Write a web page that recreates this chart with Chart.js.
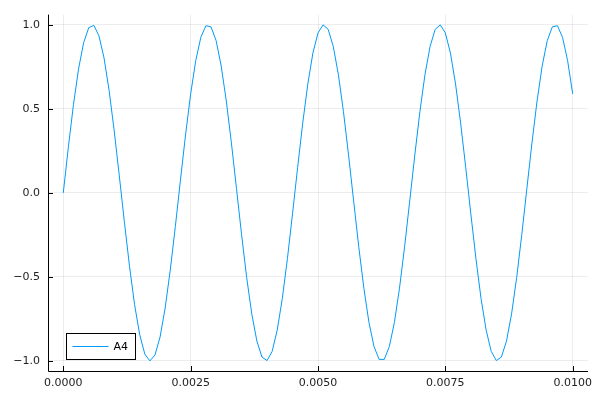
<!DOCTYPE html>
<html><head><meta charset="utf-8">
<script src="https://cdn.jsdelivr.net/npm/chart.js@4"></script>
<style>html,body{margin:0;padding:0;background:#fff}#wrap{width:600px;height:400px}</style>
</head><body><div id="wrap"><canvas id="c" width="600" height="400"></canvas></div>
<script>
const seriesName = "A4";
const timeStep = 0.0001;
const amplitude = [0,0.273,0.525,0.737,0.894,0.982,0.996,0.934,0.802,0.608,0.368,0.100,-0.175,-0.437,-0.666,-0.844,-0.959,-1.000,-0.965,-0.858,-0.685,-0.460,-0.200,0.075,0.345,0.588,0.786,0.925,0.994,0.987,0.905,0.754,0.546,0.297,0.025,-0.249,-0.504,-0.720,-0.882,-0.977,-0.998,-0.943,-0.816,-0.628,-0.391,-0.125,0.150,0.414,0.647,0.831,0.951,0.999,0.972,0.870,0.703,0.482,0.224,-0.050,-0.321,-0.567,-0.771,-0.915,-0.991,-0.991,-0.915,-0.771,-0.567,-0.321,-0.050,0.224,0.482,0.703,0.870,0.972,0.999,0.951,0.831,0.647,0.414,0.150,-0.125,-0.391,-0.628,-0.816,-0.943,-0.998,-0.977,-0.882,-0.720,-0.504,-0.249,0.025,0.297,0.546,0.754,0.905,0.987,0.994,0.925,0.786,0.588];
const xTicks = [0, 0.0025, 0.005, 0.0075, 0.01];
const xTickLabels = ["0.0000","0.0025","0.0050","0.0075","0.0100"];
const yTicks = [-1, -0.5, 0, 0.5, 1];
const yTickLabels = ["\u22121.0","\u22120.5","0.0","0.5","1.0"];

const points = amplitude.map((v, i) => ({x: +(i * timeStep).toFixed(6), y: v}));
const FONT = '"DejaVu Sans", sans-serif';

const extras = {
  id: 'extras',
  afterDraw(chart) {
    const ctx = chart.ctx, a = chart.chartArea, xs = chart.scales.x, ys = chart.scales.y;
    ctx.save();
    ctx.strokeStyle = '#000'; ctx.lineWidth = 1;
    ctx.beginPath();
    ctx.moveTo(a.left + 0.5, a.top); ctx.lineTo(a.left + 0.5, a.bottom + 0.5);
    ctx.lineTo(a.right, a.bottom + 0.5);
    xTicks.forEach(t => { const px = Math.round(xs.getPixelForValue(t)) + 0.5; ctx.moveTo(px, a.bottom); ctx.lineTo(px, a.bottom - 5); });
    yTicks.forEach(t => { const py = Math.round(ys.getPixelForValue(t)) + 0.5; ctx.moveTo(a.left, py); ctx.lineTo(a.left + 5, py); });
    ctx.stroke();
    // legend
    const lx = 66.5, ly = 333.5, lw = 69, lh = 26;
    ctx.fillStyle = '#fff'; ctx.fillRect(lx, ly, lw, lh);
    ctx.strokeStyle = '#000'; ctx.strokeRect(lx, ly, lw, lh);
    ctx.strokeStyle = '#009AFA'; ctx.beginPath();
    ctx.moveTo(lx + 6, ly + 13); ctx.lineTo(lx + 42, ly + 13); ctx.stroke();
    ctx.fillStyle = '#000'; ctx.font = '11px ' + FONT; ctx.textBaseline = 'middle'; ctx.textAlign = 'left';
    ctx.fillText(seriesName, lx + 47, ly + 13.5);
    ctx.restore();
  }
};

new Chart(document.getElementById('c'), {
  type: 'line',
  data: { datasets: [{ label: seriesName, data: points, borderColor: '#009AFA', borderWidth: 1, pointRadius: 0, fill: false, tension: 0 }] },
  options: {
    responsive: false, animation: false, devicePixelRatio: 1,
    layout: { padding: { top: 12, right: 12, left: 0, bottom: 0 } },
    plugins: { legend: { display: false }, tooltip: { enabled: false } },
    scales: {
      x: {
        type: 'linear', min: -0.0003, max: 0.0103,
        afterBuildTicks: s => { s.ticks = xTicks.map(v => ({value: v})); },
        afterFit: s => { s.height = 29; },
        border: { display: false },
        grid: { color: 'rgba(0,0,0,0.07)', drawTicks: false },
        ticks: { padding: 6, color: '#222', font: { size: 11, family: FONT }, maxRotation: 0,
          callback: (v) => { const i = xTicks.findIndex(t => Math.abs(t - v) < 1e-9); return i >= 0 ? xTickLabels[i] : ''; } }
      },
      y: {
        type: 'linear', min: -1.06, max: 1.06,
        afterBuildTicks: s => { s.ticks = yTicks.map(v => ({value: v})); },
        afterFit: s => { s.width = 48; },
        border: { display: false },
        grid: { color: 'rgba(0,0,0,0.07)', drawTicks: false },
        ticks: { padding: 8, color: '#222', font: { size: 11, family: FONT },
          callback: (v) => { const i = yTicks.findIndex(t => Math.abs(t - v) < 1e-9); return i >= 0 ? yTickLabels[i] : ''; } }
      }
    }
  },
  plugins: [extras]
});
</script></body></html>
